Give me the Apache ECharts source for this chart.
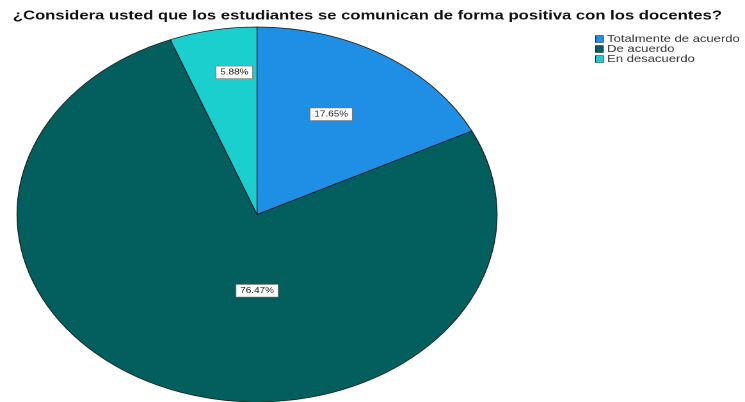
<!DOCTYPE html>
<html>
<head>
<meta charset="utf-8">
<script src="https://cdn.jsdelivr.net/npm/echarts@6/dist/echarts.min.js"></script>
<style>
  html, body { margin: 0; padding: 0; background: #ffffff; overflow: hidden; }
  #wrap { width: 745px; height: 402px; overflow: hidden; position: relative; }
  /* the chart is drawn narrower and widened, giving the oval pie */
  #chart { width: 582px; height: 402px; transform-origin: 0 0; transform: scaleX(1.28); }
</style>
</head>
<body>
<div id="wrap"><div id="chart"></div></div>
<script>
const titleText = '¿Considera usted que los estudiantes se comunican de forma positiva con los docentes?';
const categories = ['Totalmente de acuerdo', 'De acuerdo', 'En desacuerdo'];
const percents = [17.65, 76.47, 5.88];

// slice colours and label nudges (pixels, unwidened) in the same order
const sliceColors = ['#1f8fe6', '#035e5e', '#1ccfcf'];
const labelNudge = [[7, -18], [35, -14], [0, -47]];

const chart = echarts.init(document.getElementById('chart'), null, { renderer: 'canvas', devicePixelRatio: 2 });

const pieData = categories.map((name, i) => ({
  name: name,
  value: percents[i],
  itemStyle: { color: sliceColors[i] },
  label: { offset: labelNudge[i] }
}));

chart.setOption({
  animation: false,
  title: {
    text: titleText,
    left: 5,
    top: 4,
    textStyle: { fontFamily: 'Liberation Sans, Arial, sans-serif', fontSize: 13, fontWeight: 'bold', color: '#111', lineHeight: 14 }
  },
  legend: {
    orient: 'vertical',
    left: 460,
    top: 29,
    itemWidth: 6,
    itemHeight: 7,
    itemGap: 0,
    icon: 'rect',
    data: categories,
    itemStyle: { borderColor: '#222', borderWidth: 0.6 },
    textStyle: { fontFamily: 'Liberation Sans, Arial, sans-serif', fontSize: 10.2, color: '#333', lineHeight: 8.5, padding: [0, 0, 0, -2] }
  },
  series: [{
    type: 'pie',
    center: [200.8, 214.5],
    radius: 187.5,
    startAngle: 90,
    clockwise: true,
    data: pieData,
    itemStyle: { borderColor: '#1b1b1b', borderWidth: 0.7 },
    label: {
      show: true,
      position: 'inside',
      formatter: p => p.value.toFixed(2) + '%',
      fontFamily: 'Liberation Sans, Arial, sans-serif',
      fontSize: 7.8,
      color: '#222',
      backgroundColor: '#ffffff',
      borderColor: '#777',
      borderWidth: 0.6,
      padding: [2, 3]
    },
    labelLine: { show: false },
    emphasis: { disabled: true }
  }]
});
</script>
</body>
</html>
